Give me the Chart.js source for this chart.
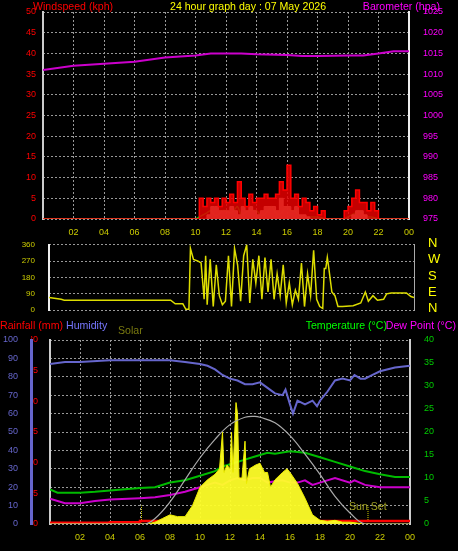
<!DOCTYPE html>
<html><head><meta charset="utf-8">
<script src="https://cdn.jsdelivr.net/npm/chart.js@4"></script>
<style>
body{margin:0;background:#000;width:458px;height:551px;overflow:hidden;position:relative;font-family:"Liberation Sans",Arial,sans-serif}
canvas{position:absolute;left:0}
.t{position:absolute;font-size:10.6px;white-space:nowrap;line-height:12px}
.d{position:absolute;left:428px;font-size:13px;line-height:14px;color:#ff0}
</style></head><body>
<canvas id="c1" style="top:0"></canvas>
<canvas id="c2" style="top:234px"></canvas>
<canvas id="c3" style="top:318px"></canvas>
<div class="t" style="left:33px;top:0;color:#f00">Windspeed (kph)</div>
<div class="t" style="left:170px;top:0;color:#ff0">24 hour graph day : 07 May 2026</div>
<div class="t" style="right:18px;top:0;color:#f0f">Barometer (hpa)</div>
<div class="t" style="left:0;top:319px;color:#f00">Rainfall (mm)</div>
<div class="t" style="left:66px;top:319px;color:#77f">Humidity</div>
<div class="t" style="left:118px;top:324px;color:#7a7a10">Solar</div>
<div class="t" style="right:71px;top:319px;color:#0f0">Temperature (°C)</div>
<div class="t" style="right:2px;top:319px;color:#f0f">Dew Point (°C)</div>
<div class="t" style="left:349px;top:500px;color:#a0a020">Sun Set</div>
<div id="dirl"></div>
<script>
// ---- data ----
const baroH=[0,2,4,6,8,10,11,12,13,14,16,17,18,20,21,22,23,24];
const baroV=[1011,1012,1012.5,1013,1014,1014.5,1015,1015,1015,1014.8,1014.6,1014.4,1014.4,1014.5,1014.5,1015,1015.5,1015.5];
const windH=[0,10,10.25,10.5,10.75,11,11.25,11.5,11.75,12,12.25,12.5,12.75,13,13.25,13.5,13.75,14,14.25,14.5,14.75,15,15.25,15.5,15.75,16,16.25,16.5,16.75,17,17.25,17.5,17.75,18,18.25,18.5,18.75,19,19.25,19.5,19.75,20,20.25,20.5,20.75,21,21.25,21.5,21.75,22,24];
const gustV=[0,0,5,3,5,4,5,3,5,4,6,4,9,5,3,6,4,5,5,6,5,5,6,9,7,13,5,6,3,5,4,2,3,1,2,0,0,0,0,0,2,3,5,7,4,4,2,4,2,0,0];
const avgV=[0,0,0.5,1,1.5,2,1,1,2,2,1.5,2,3,1,1.5,2,2,2,1,1,2,3,1.5,1,2,3,2,2,1,0.5,0.5,0.5,0.5,0.5,0.3,0,0,0,0,0,0,0.5,1,1.5,2,1,0.5,0.5,0.3,0,0];
const paleV=[0,0,0,0,1,3,3,2,2,2,3,2,1,3,2,3,2,1,2,3,3,3,2,5,3,3,2,3,1,1,0.5,0,0,0,0,0,0,0,0,0,0,0,1,2,2,1,0,0,0,0,0];
const dirH=[0,0.8,1,8,8.3,8.8,9,9.2,9.3,9.5,9.8,10,10.2,10.3,10.4,10.6,10.8,11,11.2,11.4,11.6,11.8,12,12.2,12.4,12.6,12.8,13,13.2,13.4,13.6,13.8,14,14.2,14.4,14.6,14.8,15,15.2,15.4,15.6,15.8,16,16.2,16.4,16.6,16.8,17,17.2,17.4,17.6,17.8,18,18.1,18.2,18.3,18.4,18.6,18.8,19,19.3,20,20.5,20.8,21,21.3,21.6,22,22.2,22.5,23.5,23.8,24];
const dirV=[70,60,55,55,35,35,5,5,340,280,270,260,60,300,30,280,20,250,80,30,50,300,20,340,250,50,300,360,40,280,150,300,60,290,100,280,60,200,80,250,40,150,30,110,60,260,20,200,80,330,60,20,10,230,230,290,230,100,80,20,20,25,40,100,50,80,55,60,90,95,95,75,70];
const humH=[0,1,2,4,8,9,10,10.5,11,11.5,12,12.5,13,13.5,14,14.5,15,15.5,15.7,16,16.2,16.5,17,17.5,17.8,18,18.5,19,19.5,20,20.3,20.7,21,21.5,22,23,24];
const humV=[87,88,88,89,89,88,87,86,84,81,79,78,76,76,77,74,71,70,73,65,60,67,65,67,64,67,72,78,79,78,81,79,79,81,83,85,86];
const tempH=[0,0.5,2,3,4,6,7,8,9,10,11,11.5,12,13,13.5,14,14.5,15,16,17,18,19,20,21,22,23,24];
const tempV=[7.5,6.8,6.8,7,7.3,7.8,8,9,9.5,10.5,11.5,12.5,13,14,14.5,15,15.5,15.3,15.8,15.5,14.5,13.5,12.5,11.5,10.8,10.2,10.2];
const dewH=[0,1,2,3,4,6,7,8,9,10,10.5,11,11.5,12,12.5,13,13.5,14,14.5,15,15.5,16,16.5,17,17.5,18,19,20,20.3,21,22,23,24];
const dewV=[5.5,4.5,4.5,5,5.3,5.6,5.8,6.3,7,8,8.5,9,8.5,9.5,10,9.5,10,10,9,9.3,9.5,9,9,9.5,8.5,9,10,9,9.5,8.5,8,8,8];
const solH=[0,6.5,7,7.5,8,8.5,9,9.5,10,10.5,11,11.3,11.5,11.6,11.8,12,12.1,12.2,12.4,12.5,12.6,12.8,13,13.1,13.3,13.7,14,14.3,14.5,14.7,15,15.5,15.8,16,16.5,17,17.5,18,18.5,19,19.5,20,20.5,21,24];
const solV=[0,0,1,3,5,4,4,10,20,24,27,30,50,28,32,30,50,28,66,60,25,25,45,22,30,32,33,28,28,20,24,28,30,28,22,14,5,2,1.5,2,1,1,0.5,0,0];
const theoH=[0,6.3,7,8,9,10,11,12,13,13.65,14,15,16,17,18,19,20,21,24];
const theoV=[0,0,3,12,24,36,46,54,58,58.5,58,55,48,38,27,15,6,0,0];
const rainH=[0,4,6,24];
const rainV=[0.2,0.3,0.5,0.5];
const sunMarks=[6.1,21.2];
const xTicks=['02','04','06','08','10','12','14','16','18','20','22','00'];
const dirLetters=['N','W','S','E','N'];
const dirLetterTops=[236,252,269,285,301];

document.getElementById('dirl').innerHTML=dirLetters.map((l,i)=>`<div class="d" style="top:${dirLetterTops[i]}px">${l}</div>`).join('');

const pts=(h,v)=>h.map((x,i)=>({x,y:v[i]}));
const font={family:'"Liberation Sans", Arial, sans-serif',size:9};
const fixW=w=>s=>{s.width=w};
const fixH=h=>s=>{s.height=h};
const gridAxis=(min,max,step,pos,weight)=>({position:pos,min,max,weight,afterFit:fixW(0),border:{display:false,dash:[2,2]},grid:{color:'#999',drawTicks:false},ticks:{display:false,stepSize:step,autoSkip:false}});
const xScale=(color,h)=>({type:'linear',min:0,max:24,afterFit:fixH(h),
  border:{display:false,dash:[2,2]},grid:{color:'#999',drawTicks:false},
  ticks:{stepSize:2,autoSkip:false,maxRotation:0,color,font,padding:8,
    callback:v=>v===0?'':xTicks[v/2-1]}});
Chart.defaults.animation=false;
function mk(id,w,h,cfg){const c=document.getElementById(id);c.width=w;c.height=h;c.style.width=w+'px';c.style.height=h+'px';
  cfg.options=Object.assign({responsive:false,devicePixelRatio:1,plugins:{legend:{display:false},tooltip:{enabled:false}},elements:{point:{radius:0}}},cfg.options);
  return new Chart(c,cfg);}

// ---- chart 1 ----
mk('c1',458,240,{type:'line',data:{datasets:[
 {data:pts(baroH,baroV),yAxisID:'yb',borderColor:'#c0c',borderWidth:2,tension:0},
 {data:pts(windH,gustV),yAxisID:'yw',borderColor:'#f00',backgroundColor:'rgba(230,0,0,0.85)',fill:'origin',borderWidth:1.5,stepped:true},
 {data:pts(windH,paleV),yAxisID:'yw',borderColor:'#dfd',backgroundColor:'rgba(220,255,220,0.9)',fill:'origin',borderWidth:1,stepped:true},
 {data:pts(windH,avgV),yAxisID:'yw',borderColor:'#0c0',borderWidth:1.5,tension:0.3},
 {data:[{x:0,y:-0.3},{x:24,y:-0.3}],yAxisID:'yw',borderColor:'#cfc',borderWidth:2}
]},options:{layout:{padding:{top:12}},scales:{
 x:xScale('#cc0',21),
 yg:gridAxis(0,50,5,'left',0),
 yw:{position:'left',min:0,max:50,weight:1,afterFit:fixW(43),border:{display:true,color:'#ccc',width:2},grid:{display:false,drawTicks:true,tickLength:3,color:'#f00'},ticks:{stepSize:5,autoSkip:false,color:'#f00',font,padding:4}},
 yb:{position:'right',min:975,max:1025,afterFit:fixW(49),border:{display:true,color:'#eee',width:2},grid:{display:false},ticks:{stepSize:5,autoSkip:false,color:'#f0f',font,padding:6,callback:v=>String(v)}}
}}});

// ---- chart 2 ----
mk('c2',458,87,{type:'line',data:{datasets:[
 {data:pts(dirH,dirV),yAxisID:'yd',borderColor:'#dd0',borderWidth:1.5,tension:0}
]},options:{layout:{padding:{top:5,bottom:0}},scales:{
 x:{type:'linear',min:0,max:24,display:false},
 yg:gridAxis(0,360,90,'left',0),
 yd:{position:'left',min:0,max:360,weight:1,afterFit:fixW(49),border:{display:true,color:'#eee',width:2},grid:{display:false},ticks:{stepSize:90,autoSkip:false,color:'#cc0',font:{family:font.family,size:8},padding:6}},
 yl:{position:'right',min:0,max:360,afterFit:fixW(44),ticks:{display:false},grid:{display:false},border:{display:true,color:'#aaa',width:1}}
}}});

// ---- chart 3 ----
mk('c3',458,233,{type:'line',data:{datasets:[
 {data:pts(humH,humV),yAxisID:'yh',borderColor:'#66c',borderWidth:2,tension:0},
 {data:pts(theoH,theoV),yAxisID:'yh',borderColor:'#aaa',borderWidth:1.2,tension:0.4},
 {data:pts(solH,solV),yAxisID:'yh',borderColor:'#ee0',backgroundColor:'rgba(255,255,40,0.95)',fill:'origin',borderWidth:1,tension:0},
 {data:pts(tempH,tempV),yAxisID:'yt',borderColor:'#0b0',borderWidth:2,tension:0},
 {data:pts(dewH,dewV),yAxisID:'yt',borderColor:'#c0c',borderWidth:2,tension:0},
 {data:pts(rainH,rainV),yAxisID:'yr',borderColor:'#f00',borderWidth:2.5,stepped:true},
 ...sunMarks.map(s=>({data:[{x:s,y:0},{x:s,y:10}],yAxisID:'yh',borderColor:'#cc0',borderWidth:1,borderDash:[1,1]}))
]},options:{layout:{padding:{top:22}},scales:{
 x:xScale('#cc0',27),
 yg:gridAxis(0,100,10,'left',0),
 yr:{position:'left',min:0,max:30,weight:1,afterFit:fixW(19),border:{display:true,color:'#ccc',width:2},grid:{display:false},ticks:{stepSize:5,autoSkip:false,color:'#f00',font,padding:4}},
 yh:{position:'left',min:0,max:100,weight:2,afterFit:fixW(31),border:{display:true,color:'#66c',width:3},grid:{display:false},ticks:{stepSize:10,autoSkip:false,color:'#66c',font,padding:5}},
 yt:{position:'right',min:0,max:40,afterFit:fixW(48),border:{display:true,color:'#ccc',width:2},grid:{display:false},ticks:{stepSize:5,autoSkip:false,color:'#0c0',font,padding:6}}
}}});
</script></body></html>
